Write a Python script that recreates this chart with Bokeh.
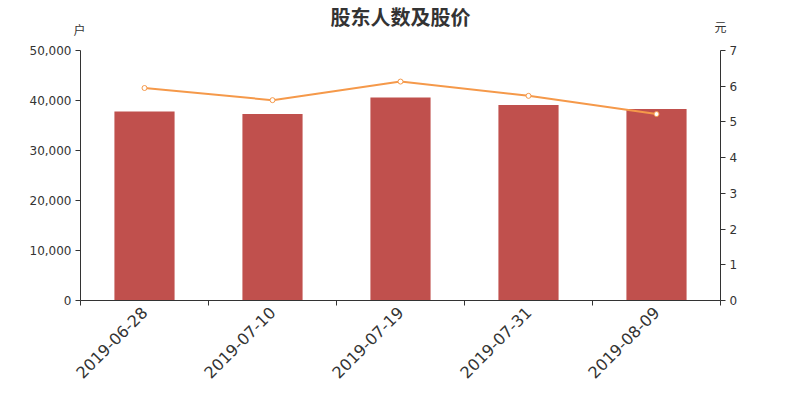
from bokeh.plotting import figure
from bokeh.models import (Range1d, LinearAxis, FixedTicker, NumeralTickFormatter,
                          Title, ColumnDataSource)
from bokeh.embed import file_html
from bokeh.resources import INLINE
import math

dates = ["2019-06-28", "2019-07-10", "2019-07-19", "2019-07-31", "2019-08-09"]
holders = [37800, 37300, 40600, 39100, 38300]
price = [5.95, 5.61, 6.13, 5.73, 5.22]
left_ticks = [0, 10000, 20000, 30000, 40000, 50000]
right_ticks = [0, 1, 2, 3, 4, 5, 6, 7]

xs = [i + 0.5 for i in range(len(dates))]
src = ColumnDataSource(dict(x=xs, h=holders, p=price))

FONT = "DejaVu Sans"
CJK = "Noto Sans CJK SC"

p = figure(width=784, height=386, output_backend="svg", toolbar_location=None,
           x_range=Range1d(0, len(dates)), y_range=Range1d(0, 50000),
           min_border_left=80, min_border_right=64, min_border_top=50,
           min_border_bottom=86, y_axis_location=None, x_axis_location=None,
           title=None)
p.outline_line_color = None
p.xgrid.visible = False
p.ygrid.visible = False
p.extra_y_ranges = {"price": Range1d(0, 7)}

# titles (stacked outward from the frame)
t_hu = Title(text="户", align="left", offset=-7, standoff=26, text_font=CJK,
             text_font_size="12px", text_font_style="normal", text_color="#333333")
t_main = Title(text="股东人数及股价", align="center", standoff=-50, text_font=CJK,
               text_font_size="20px", text_font_style="bold", text_color="#333333")
t_yuan = Title(text="元", align="right", offset=-6, standoff=-59, text_font=CJK,
               text_font_size="12px", text_font_style="normal", text_color="#333333")
p.add_layout(t_hu, "above")
p.add_layout(t_main, "above")
p.add_layout(t_yuan, "above")

# bottom axis
xaxis = LinearAxis(ticker=FixedTicker(ticks=xs, minor_ticks=list(range(len(dates) + 1))),
                   major_label_overrides={x: d for x, d in zip(xs, dates)})
xaxis.major_tick_out = 0
xaxis.major_tick_in = 0
xaxis.minor_tick_out = 5
xaxis.minor_tick_in = 0
xaxis.minor_tick_line_color = "#333333"
xaxis.axis_line_color = "#333333"
xaxis.major_label_orientation = math.pi / 4
xaxis.major_label_text_font = FONT
xaxis.major_label_text_font_size = "16px"
xaxis.major_label_text_color = "#333333"
xaxis.major_label_standoff = 4
p.add_layout(xaxis, "below")

# left axis
laxis = LinearAxis(ticker=FixedTicker(ticks=left_ticks),
                   formatter=NumeralTickFormatter(format="0,0"))
laxis.minor_tick_line_color = None
laxis.major_tick_out = 5
laxis.major_tick_in = 0
laxis.axis_line_color = "#333333"
laxis.major_tick_line_color = "#333333"
laxis.major_label_text_font = FONT
laxis.major_label_text_font_size = "12px"
laxis.major_label_text_color = "#333333"
laxis.major_label_standoff = 4
p.add_layout(laxis, "left")

# right axis
raxis = LinearAxis(y_range_name="price", ticker=FixedTicker(ticks=right_ticks))
raxis.minor_tick_line_color = None
raxis.major_tick_out = 5
raxis.major_tick_in = 0
raxis.axis_line_color = "#333333"
raxis.major_tick_line_color = "#333333"
raxis.major_label_text_font = FONT
raxis.major_label_text_font_size = "12px"
raxis.major_label_text_color = "#333333"
raxis.major_label_standoff = 4
p.add_layout(raxis, "right")

p.vbar(x="x", top="h", width=0.47, bottom=0, source=src,
       fill_color="#c0504d", line_color=None)
p.line(x="x", y="p", source=src, y_range_name="price",
       line_color="#f5994a", line_width=2)
p.scatter(x="x", y="p", source=src, y_range_name="price", size=5,
          fill_color="white", line_color="#f5994a", line_width=1)

open("out.html", "w").write(file_html(p, INLINE))
